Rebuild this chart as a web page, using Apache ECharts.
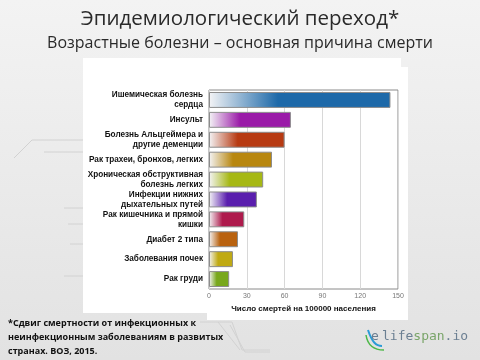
<!DOCTYPE html>
<html><head><meta charset="utf-8">
<script src="https://cdn.jsdelivr.net/npm/echarts@6/dist/echarts.min.js"></script>
<style>html,body{margin:0;padding:0;background:#ececec}#c{width:480px;height:360px}</style>
</head><body><div id="c"></div>
<script>
const categories = [
  "Ишемическая болезнь\nсердца",
  "Инсульт",
  "Болезнь Альцгеймера и\nдругие деменции",
  "Рак трахеи, бронхов, легких",
  "Хроническая обструктивная\nболезнь легких",
  "Инфекции нижних\nдыхательных путей",
  "Рак кишечника и прямой\nкишки",
  "Диабет 2 типа",
  "Заболевания почек",
  "Рак груди"
];
const deaths = [144, 65, 60, 50, 43, 38, 28, 23, 19, 16];
const barColors = ["#1d69a9","#9a1aa8","#b73a12","#b8870f","#a6b814","#5a1eae","#ae1a4c","#b9620f","#c0aa13","#78a81c"];
const xTicks = [0, 30, 60, 90, 120, 150];
const title = "Эпидемиологический переход*";
const subtitle = "Возрастные болезни – основная причина смерти";
const footnote = "*Сдвиг смертности от инфекционных к\nнеинфекционным заболеваниям в развитых\nстранах. ВОЗ, 2015.";
const xName = "Число смертей на 100000 населения";

function grad(c){
  return new echarts.graphic.LinearGradient(0,0,1,0,[
    {offset:0,color:'#f4f4f6'},{offset:0.38,color:c},{offset:1,color:c}
  ]);
}
const deco = {stroke:'#d2d2d2',lineWidth:1,fill:null};
const chart = echarts.init(document.getElementById('c'));
chart.setOption({
  backgroundColor: new echarts.graphic.LinearGradient(0,0,0,1,[{offset:0,color:'#f3f3f3'},{offset:1,color:'#e2e2e2'}]),
  animation:false,
  title:[
    {text:title,left:'center',top:4,textStyle:{fontFamily:'Open Sans',fontWeight:'normal',fontSize:20.5,color:'#2a2a2a'}},
    {text:subtitle,left:'center',top:30,textStyle:{fontFamily:'Open Sans',fontWeight:'normal',fontSize:16,color:'#2a2a2a'}}
  ],
  graphic:[
    {type:'polyline',z:-20,shape:{points:[[14,158],[32,140],[83,140]]},style:deco},
    {type:'line',z:-20,shape:{x1:44,y1:152,x2:83,y2:152},style:deco},
    {type:'line',z:-20,shape:{x1:64,y1:208,x2:83,y2:208},style:deco},
    {type:'line',z:-20,shape:{x1:68,y1:224,x2:83,y2:224},style:deco},
    {type:'line',z:-20,shape:{x1:70,y1:244,x2:83,y2:244},style:deco},
    {type:'line',z:-20,shape:{x1:64,y1:276,x2:83,y2:276},style:deco},
    {type:'polyline',z:-20,shape:{points:[[200,322],[232,322],[242,350],[270,350]]},style:deco},
    {type:'polyline',z:-20,shape:{points:[[230,325],[245,352],[270,352]]},style:deco},
    {type:'polyline',z:-20,shape:{points:[[218,322],[240,350]]},style:deco},
    {type:'rect',z:-10,shape:{x:207,y:67,width:201,height:253},style:{fill:'#ffffff'}},
    {type:'rect',z:-10,shape:{x:83,y:58,width:318,height:255},style:{fill:'#ffffff'}},
    {type:'text',left:8,top:316,style:{text:footnote,font:'bold 9px "Open Sans"',fill:'#111',lineHeight:14}},
    {type:'bezierCurve',shape:{x1:368,y1:330,x2:382,y2:346,cpx1:372,cpy1:342,cpx2:376,cpy2:346},style:{stroke:'#2a9bd6',lineWidth:2,fill:null}},
    {type:'bezierCurve',shape:{x1:366,y1:335,x2:384,y2:350,cpx1:368,cpy1:348,cpx2:378,cpy2:350},style:{stroke:'#4cb848',lineWidth:1.5,fill:null}},
    {type:'text',left:371,top:330,style:{text:'e',font:'13px "DejaVu Sans Mono"',fill:'#6b7f92'}},
    {type:'text',left:382,top:330,style:{text:'{a|life}{b|span}{a|.io}',font:'13px "DejaVu Sans Mono"',
      rich:{a:{fill:'#6b7f92',font:'13px "DejaVu Sans Mono"'},b:{fill:'#7aa56a',font:'13px "DejaVu Sans Mono"'}}}}
  ],
  grid:{left:209,right:82,top:90,bottom:71,show:true,backgroundColor:'#ffffff',borderColor:'#8a8a8a',borderWidth:1},
  xAxis:{type:'value',min:0,max:150,interval:30,
    name:xName,nameLocation:'middle',nameGap:13,
    nameTextStyle:{fontFamily:'Liberation Sans',fontWeight:'bold',fontSize:8,color:'#111'},
    axisLine:{show:false},axisTick:{show:false},
    axisLabel:{fontFamily:'Liberation Sans',fontSize:7,color:'#777',margin:4,
      formatter:v=>xTicks.includes(v)?String(v):''},
    splitLine:{lineStyle:{color:'#d8d8d8',width:1}}},
  yAxis:{type:'category',inverse:true,data:categories,
    axisLine:{show:false},axisTick:{show:false},
    axisLabel:{fontFamily:'Liberation Sans',fontWeight:'bold',fontSize:8.2,color:'#111',lineHeight:10,margin:6,align:'right'}},
  series:[{type:'bar',barCategoryGap:'20%',
    data:deaths.map((v,i)=>({value:v,itemStyle:{color:grad(barColors[i])}})),
    itemStyle:{borderColor:'#8c8c8c',borderWidth:1}}]
});
</script></body></html>
